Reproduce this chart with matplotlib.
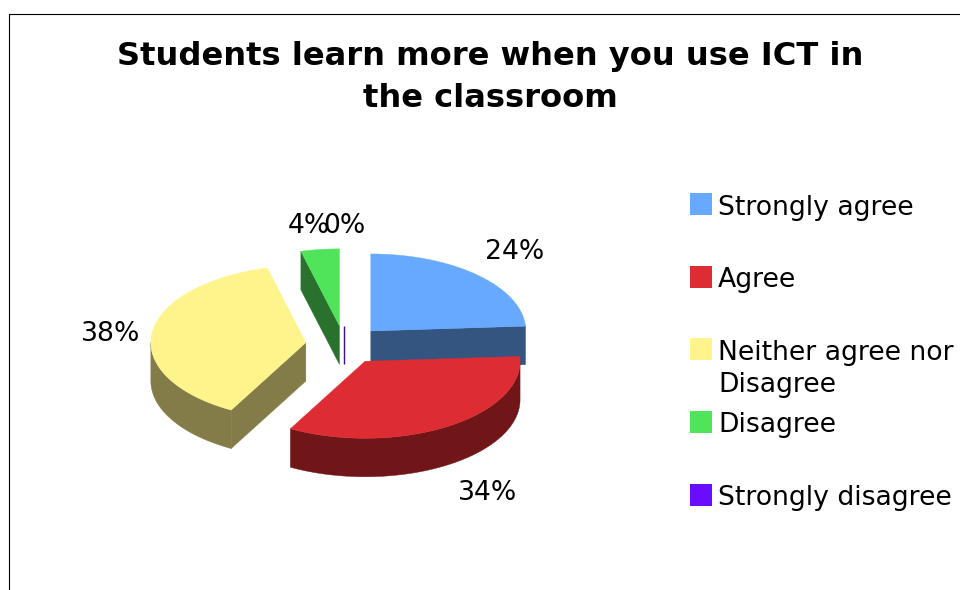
"""Exploded pseudo-3D pie of the ICT survey answers, drawn with polygons."""

import matplotlib
matplotlib.use("Agg")
import matplotlib.pyplot as plt
from matplotlib.patches import Polygon, Rectangle
import numpy as np

categories = ["Strongly agree", "Agree", "Neither agree nor\nDisagree", "Disagree", "Strongly disagree"]
shares = [24, 34, 38, 4, 0]
pct_labels = ["24%", "34%", "38%", "4%", "0%"]
title = ["Students learn more when you use ICT in", "the classroom"]

top_colors = ["#66a9ff", "#dd2c33", "#fff48c", "#4fe45a", "#6a0dff"]
side_colors = ["#335580", "#701618", "#847c48", "#29712d", "#3a0f9f"]

# pie geometry in figure pixels
CX, CY = 344.3, 345.0
RX, RY = 155.0, 77.0
DEPTH = 38.5
EXPLODE = 0.25

pct_pos = [(515, 259), (488, 500), (111, 341), (309, 233), (344, 233)]
legend_box_y = [204, 277, 349, 422, 495]
legend_base_y = [215, 287, 360, 432, 505]
LEGEND_LINE = 32
FS = 19.2


def rim(cx, cy, t):
    return np.column_stack([cx + RX * np.cos(t), cy - RY * np.sin(t)])


def draw_slice(ax, start, end, top, side):
    """Slice runs clockwise from start to end (radians)."""
    mid = (start + end) / 2
    cx = CX + EXPLODE * RX * np.cos(mid)
    cy = CY - EXPLODE * RY * np.sin(mid)
    apex = np.array([cx, cy])
    down = np.array([0, DEPTH])

    if start == end:
        ax.plot([cx, cx], [cy, cy + DEPTH], color=side, lw=1.0, solid_capstyle="butt")
        return

    # cut faces, only the ones turned towards the viewer
    for t, visible in ((start, np.cos(start) < 0), (end, np.cos(end) > 0)):
        if visible:
            p = rim(cx, cy, np.array([t]))[0]
            ax.add_patch(Polygon([apex, p, p + down, apex + down], fc=side, ec=side, lw=0.3))

    # outer wall, front half of the rim only
    ts = np.linspace(start, end, 200)
    ts = ts[np.sin(ts) <= 0]
    if len(ts) > 1:
        upper = rim(cx, cy, ts)
        ax.add_patch(Polygon(np.vstack([upper, (upper + down)[::-1]]), fc=side, ec=side, lw=0.3))

    arc = rim(cx, cy, np.linspace(start, end, 200))
    ax.add_patch(Polygon(np.vstack([apex, arc]), fc=top, ec=top, lw=0.3))


fig = plt.figure(figsize=(9.6, 5.9), dpi=100)
ax = fig.add_axes([0, 0, 1, 1])
ax.set_xlim(0, 960)
ax.set_ylim(590, 0)
ax.axis("off")

# outer chart frame, runs off the right and bottom
ax.plot([8.5, 8.5, 960], [590, 13.5, 13.5], color="black", lw=0.8)

for base_y, line in zip([65, 107], title):
    ax.text(490, base_y, line, ha="center", va="baseline", fontsize=23.1, fontweight="bold")

edges = np.pi / 2 - np.cumsum([0] + shares) / 100 * 2 * np.pi
slices = list(zip(edges[:-1], edges[1:], top_colors, side_colors))
# back slices first
for i in [4, 3, 0, 2, 1]:
    draw_slice(ax, *slices[i])

for (x, y), lab in zip(pct_pos, pct_labels):
    ax.text(x, y, lab, ha="center", va="baseline", fontsize=FS)

for box_y, base_y, cat, col in zip(legend_box_y, legend_base_y, categories, top_colors):
    ax.add_patch(Rectangle((690, box_y - 11), 22, 22, fc=col, ec="none"))
    # wrapped names get one text per line so the spacing stays fixed
    for n, line in enumerate(cat.split("\n")):
        ax.text(718, base_y + n * LEGEND_LINE, line, ha="left", va="baseline", fontsize=FS)

fig.savefig("out.png", dpi=100)
plt.close(fig)
